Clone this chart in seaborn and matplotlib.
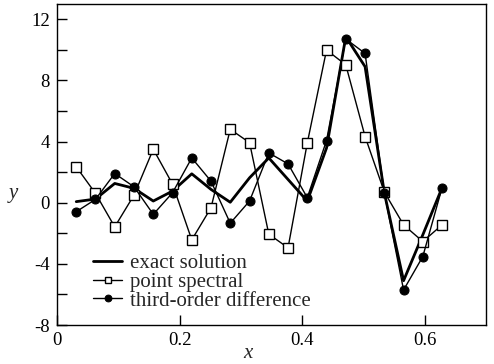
import numpy as np
import pandas as pd
import matplotlib
matplotlib.use("Agg")
import matplotlib.pyplot as plt
from matplotlib.ticker import MultipleLocator
import seaborn as sns

# x grid: i * pi/100, i = 1..20
x_vals = [0.0314, 0.0628, 0.0942, 0.1257, 0.1571, 0.1885, 0.2199, 0.2513, 0.2827, 0.3142,
          0.3456, 0.3770, 0.4084, 0.4398, 0.4712, 0.5027, 0.5341, 0.5655, 0.5969, 0.6283]
exact_solution = [0.07, 0.24, 1.26, 0.94, 0.11, 0.76, 1.89, 0.87, 0.03, 1.63,
                  2.93, 1.52, 0.11, 3.58, 10.86, 8.9, 0.65, -5.1, -2.1, 0.98]
point_spectral = [2.35, 0.61, -1.58, 0.50, 3.50, 1.22, -2.43, -0.33, 4.80, 3.93,
                  -2.06, -2.95, 3.91, 9.99, 9.02, 4.33, 0.7, -1.45, -2.54, -1.45]
third_order = [-0.59, 0.22, 1.91, 1.04, -0.76, 0.65, 2.93, 1.41, -1.34, 0.11,
               3.26, 2.54, 0.33, 4.07, 10.71, 9.77, 0.65, -5.71, -3.52, 0.98]
series_labels = ["exact solution", "point spectral", "third-order difference"]

sns.set_style("ticks")
plt.rcParams["font.family"] = ["Liberation Serif", "DejaVu Serif"]
plt.rcParams["axes.unicode_minus"] = False

fig = plt.figure(figsize=(4.94, 3.64), dpi=100)
ax = fig.add_axes([57/494, 39/364, 429/494, 321/364])

df_exact = pd.DataFrame({"x": x_vals, "y": exact_solution})
df_ps = pd.DataFrame({"x": x_vals, "y": point_spectral})
df_td = pd.DataFrame({"x": x_vals, "y": third_order})

sns.lineplot(data=df_exact, x="x", y="y", ax=ax, sort=False, color="black",
             linewidth=2.0, label=series_labels[0])
sns.lineplot(data=df_ps, x="x", y="y", ax=ax, sort=False, color="black",
             linewidth=1.0, marker="s", markersize=6.5, markerfacecolor="white",
             markeredgecolor="black", markeredgewidth=1.0, label=series_labels[1])
sns.lineplot(data=df_td, x="x", y="y", ax=ax, sort=False, color="black",
             linewidth=1.0, marker="o", markersize=6.5, markerfacecolor="black",
             markeredgecolor="black", label=series_labels[2])

ax.set_xlim(0, 0.7)
ax.set_ylim(-8, 13)
ax.yaxis.set_major_locator(MultipleLocator(4))
ax.yaxis.set_minor_locator(MultipleLocator(2))
ax.set_xticks([0, 0.2, 0.4, 0.6])
ax.set_xticklabels(["0", "0.2", "0.4", "0.6"])
ax.tick_params(axis="both", which="both", direction="in", length=7, width=1,
               labelsize=13.5, colors="black", pad=5)
ax.tick_params(axis="x", which="major", top=False)
ax.tick_params(axis="y", which="both", right=False)

for s in ax.spines.values():
    s.set_visible(True)
    s.set_linewidth(1.0)
    s.set_color("black")

ax.set_xlabel("x", fontsize=15, style="italic")
ax.set_ylabel("y", fontsize=15, style="italic", rotation=0)
ax.xaxis.set_label_coords((248-57)/429, -0.06)
ax.yaxis.set_label_coords((13-57)/429, (325-203)/321)

leg = ax.legend(loc="lower left", bbox_to_anchor=(0.085, 0.045), frameon=False,
                fontsize=15, handlelength=1.35, handletextpad=0.38,
                labelspacing=-0.05, markerscale=0.75, borderaxespad=0,
                borderpad=0)

fig.savefig("out.png", dpi=100)
